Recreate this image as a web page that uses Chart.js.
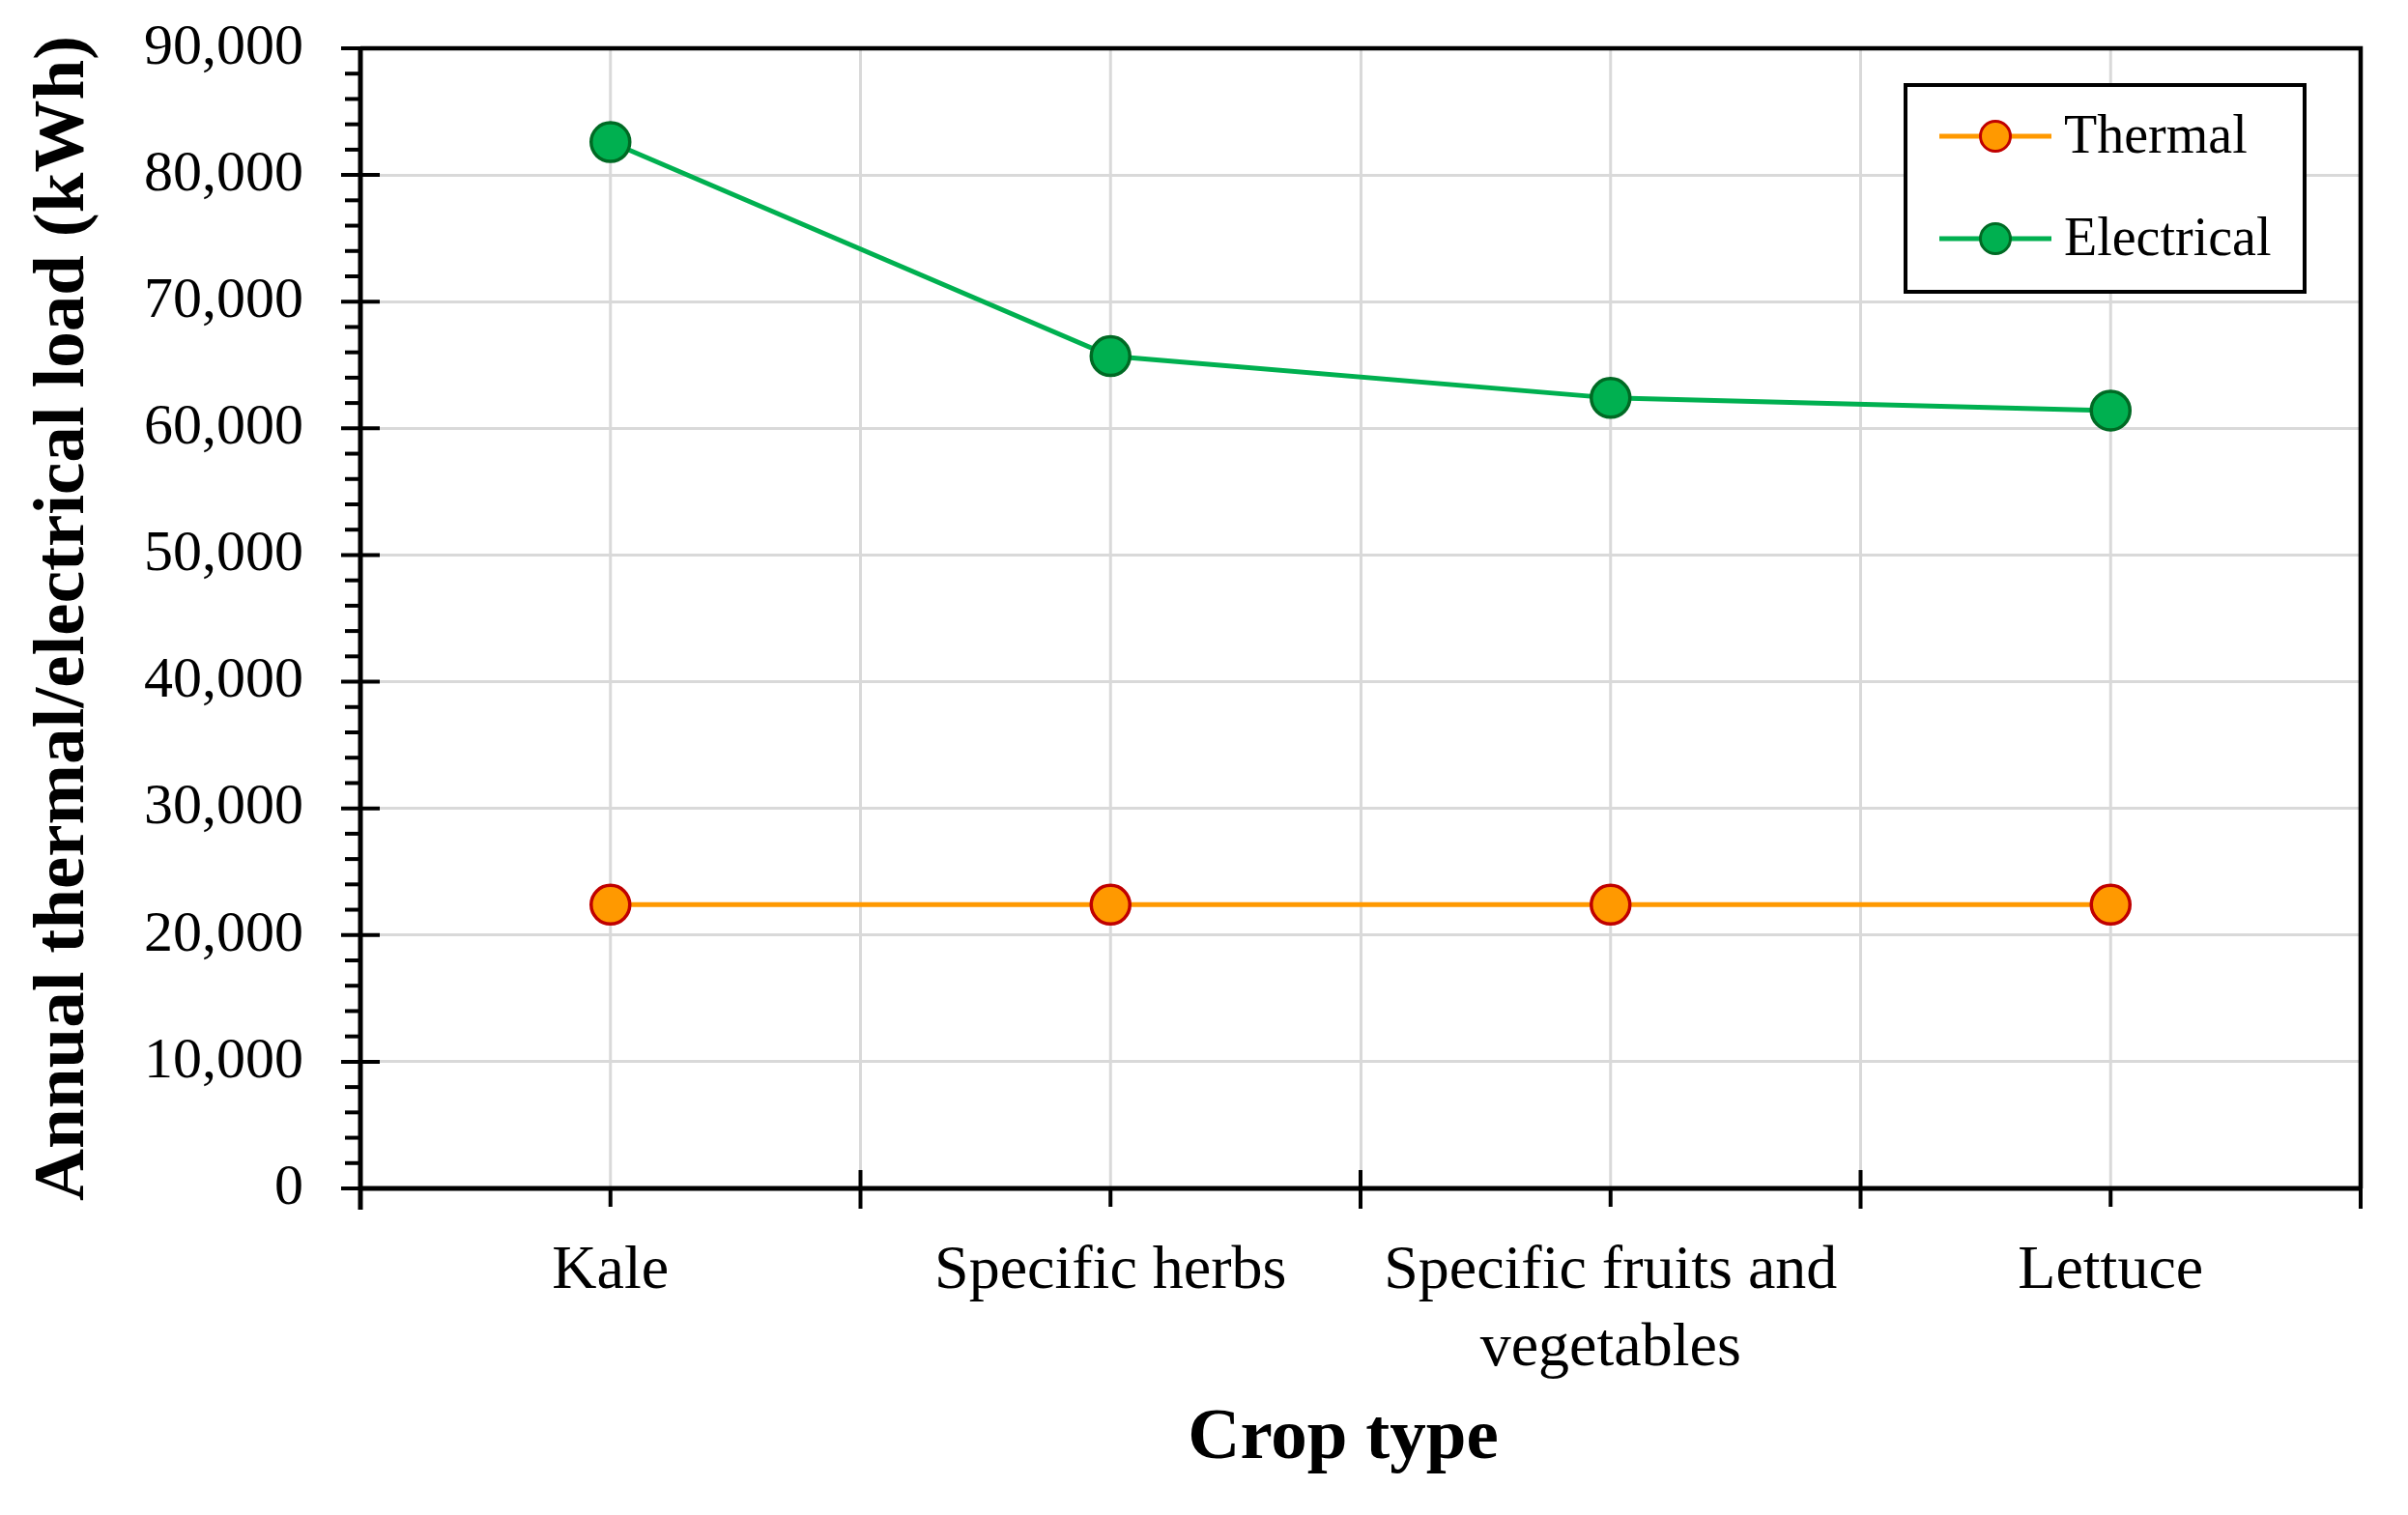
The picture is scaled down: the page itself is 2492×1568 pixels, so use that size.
<!DOCTYPE html>
<html>
<head>
<meta charset="utf-8">
<script src="https://cdn.jsdelivr.net/npm/chart.js@4.4.1/dist/chart.umd.min.js"></script>
<style>
html,body{margin:0;padding:0;background:#ffffff;}
#wrap{width:2492px;height:1568px;position:relative;}
</style>
</head>
<body>
<div id="wrap"><canvas id="c"></canvas></div>
<script>
// ---- data ----
const categories = ['Kale', 'Specific herbs', ['Specific fruits and', 'vegetables'], 'Lettuce'];
const seriesNames = ['Thermal', 'Electrical'];
const thermal = [22400, 22400, 22400, 22400];
const electrical = [82600, 65700, 62400, 61400];
const yTickValues = [0, 10000, 20000, 30000, 40000, 50000, 60000, 70000, 80000, 90000];
const yMinorStep = 2000;
const xTitle = 'Crop type';
const yTitle = 'Annual thermal/electrical load (kWh)';

// ---- styles ----
const FONT = "'Liberation Serif', 'Times New Roman', serif";
const GRID = '#d9d9d9';
const AXIS_W = 5;

const axesPlugin = {
  id: 'axesPlugin',
  beforeDatasetsDraw(chart) {
    const {ctx, chartArea: a, scales: {x}} = chart;
    ctx.save();
    ctx.strokeStyle = GRID;
    ctx.lineWidth = 3;
    for (let i = 0; i < categories.length; i++) {
      const px = x.getPixelForValue(i);
      ctx.beginPath(); ctx.moveTo(px, a.top); ctx.lineTo(px, a.bottom); ctx.stroke();
    }
    ctx.restore();
  },
  afterDraw(chart) {
    const {ctx, chartArea: a, scales: {x, y}} = chart;
    ctx.save();
    ctx.strokeStyle = '#000';
    ctx.lineCap = 'butt';
    // frame
    ctx.lineWidth = 4.5;
    ctx.beginPath();
    ctx.moveTo(a.left, a.top); ctx.lineTo(a.right, a.top); ctx.lineTo(a.right, a.bottom);
    ctx.stroke();
    // axes
    ctx.lineWidth = AXIS_W;
    ctx.beginPath(); ctx.moveTo(a.left, a.top); ctx.lineTo(a.left, a.bottom + 22); ctx.stroke();
    ctx.beginPath(); ctx.moveTo(a.left, a.bottom); ctx.lineTo(a.right, a.bottom); ctx.stroke();
    // y ticks
    ctx.lineWidth = 4;
    const yMax = yTickValues[yTickValues.length - 1];
    for (let v = 0; v <= yMax; v += yMinorStep) {
      const py = y.getPixelForValue(v);
      ctx.beginPath();
      if (yTickValues.includes(v)) { ctx.moveTo(a.left - 20, py); ctx.lineTo(a.left + 20, py); }
      else { ctx.moveTo(a.left - 16, py); ctx.lineTo(a.left, py); }
      ctx.stroke();
    }
    // x ticks
    for (let i = 0; i <= categories.length; i++) {
      const px = x.getPixelForValue(i - 0.5);
      ctx.beginPath(); ctx.moveTo(px, i === 0 ? a.bottom : a.bottom - 19); ctx.lineTo(px, a.bottom + 21); ctx.stroke();
    }
    for (let i = 0; i < categories.length; i++) {
      const px = x.getPixelForValue(i);
      ctx.beginPath(); ctx.moveTo(px, a.bottom); ctx.lineTo(px, a.bottom + 19); ctx.stroke();
    }
    // x axis title (slightly left of plot centre, as in the original)
    ctx.fillStyle = '#000';
    ctx.font = "bold 75px " + FONT;
    ctx.textAlign = 'center'; ctx.textBaseline = 'middle';
    ctx.fillText(xTitle, (a.left + a.right) / 2 - 18, 1490);
    // legend
    const L = {x1: 1972, y1: 88, x2: 2385, y2: 302};
    ctx.fillStyle = '#fff';
    ctx.fillRect(L.x1, L.y1, L.x2 - L.x1, L.y2 - L.y1);
    ctx.lineWidth = 4;
    ctx.strokeStyle = '#000';
    ctx.strokeRect(L.x1, L.y1, L.x2 - L.x1, L.y2 - L.y1);
    const rows = [141, 247];
    chart.data.datasets.forEach((ds, i) => {
      const ry = rows[i];
      ctx.strokeStyle = ds.borderColor;
      ctx.lineWidth = 5;
      ctx.beginPath(); ctx.moveTo(2007, ry); ctx.lineTo(2123, ry); ctx.stroke();
      ctx.beginPath(); ctx.arc(2065, ry, 15.5, 0, Math.PI * 2);
      ctx.fillStyle = ds.pointBackgroundColor; ctx.fill();
      ctx.lineWidth = 3; ctx.strokeStyle = ds.pointBorderColor; ctx.stroke();
      ctx.fillStyle = '#000';
      ctx.font = "56px " + FONT;
      ctx.textAlign = 'left'; ctx.textBaseline = 'middle';
      ctx.fillText(ds.label, 2136, ry + 2);
    });
    ctx.restore();
  }
};

new Chart(document.getElementById('c'), {
  type: 'line',
  data: {
    labels: categories,
    datasets: [
      {
        label: seriesNames[0], data: thermal,
        borderColor: '#FF9900', backgroundColor: '#FF9900',
        pointBackgroundColor: '#FF9900', pointBorderColor: '#C00000',
        borderWidth: 5, pointRadius: 20, pointBorderWidth: 3.5, pointHoverRadius: 20,
        tension: 0
      },
      {
        label: seriesNames[1], data: electrical,
        borderColor: '#00B050', backgroundColor: '#00B050',
        pointBackgroundColor: '#00B050', pointBorderColor: '#006A24',
        borderWidth: 5, pointRadius: 20, pointBorderWidth: 3.5, pointHoverRadius: 20,
        tension: 0
      }
    ]
  },
  options: {
    responsive: true,
    maintainAspectRatio: false,
    devicePixelRatio: 1,
    animation: false,
    layout: {padding: {left: 0, right: 49, top: 50, bottom: 0}},
    plugins: {legend: {display: false}, tooltip: {enabled: false}},
    scales: {
      x: {
        type: 'category',
        offset: true,
        grid: {display: true, offset: true, color: GRID, lineWidth: 3, drawTicks: false},
        border: {display: false},
        ticks: {color: '#000', font: {family: FONT, size: 64, lineHeight: 1.25}, padding: 46, maxRotation: 0, autoSkip: false},
        title: {display: false, text: xTitle},
        afterFit(s) { s.height = 1568 - 1230; s.paddingLeft = 0; s.paddingRight = 0; }
      },
      y: {
        min: yTickValues[0],
        max: yTickValues[yTickValues.length - 1],
        afterBuildTicks(s) { s.ticks = yTickValues.map(v => ({value: v})); },
        grid: {color: GRID, lineWidth: 3, drawTicks: false},
        border: {display: false},
        ticks: {color: '#000', font: {family: FONT, size: 60}, padding: 59,
          callback: v => Number(v).toLocaleString('en-US')},
        title: {display: true, text: yTitle, color: '#000', font: {family: FONT, size: 75, weight: 'bold', lineHeight: 1.2}, padding: {top: 22, bottom: 0}},
        afterFit(s) { s.width = 373; s.paddingTop = 0; s.paddingBottom = 0; }
      }
    }
  },
  plugins: [axesPlugin]
});
</script>
</body>
</html>
